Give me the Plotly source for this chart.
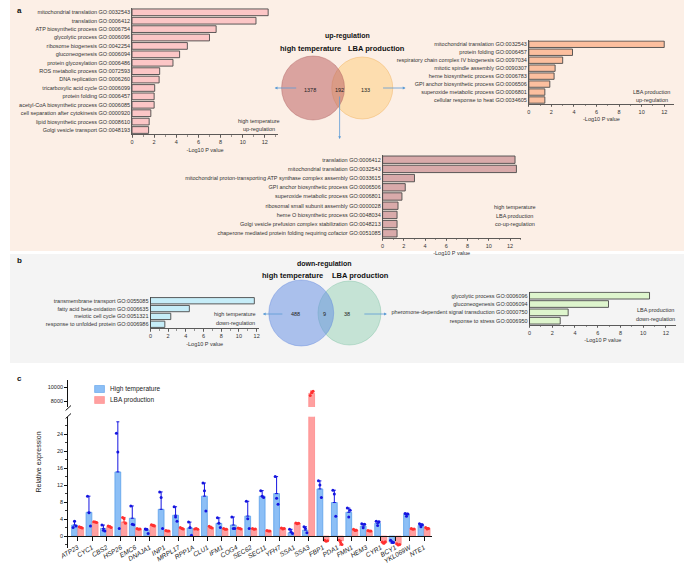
import plotly.graph_objects as go

W, H = 685, 573
FONT = "Liberation Sans, Arial, sans-serif"

def px(x):
    return x / W

def py(y):
    return 1 - y / H

# ---------------- data: panel a ----------------
a_ht_terms = ["mitochondrial translation GO:0032543", "translation GO:0006412",
              "ATP biosynthetic process GO:0006754", "glycolytic process GO:0006096",
              "ribosome biogenesis GO:0042254", "gluconeogenesis GO:0006094",
              "protein glycosylation GO:0006486", "ROS metabolic process GO:0072593",
              "DNA replication GO:0006260", "tricarboxylic acid cycle GO:0006099",
              "protein folding GO:0006457", "acetyl-CoA biosynthetic process GO:0006085",
              "cell separation after cytokinesis GO:0000920", "lipid biosynthetic process GO:0008610",
              "Golgi vesicle transport GO:0048193"]
a_ht_vals = [12.3, 11.2, 7.6, 7.0, 5.0, 4.3, 3.7, 2.5, 2.45, 2.05, 2.0, 2.0, 1.7, 1.55, 1.5]

a_lba_terms = ["mitochondrial translation GO:0032543", "protein folding GO:0006457",
               "respiratory chain complex IV biogenesis GO:0097034", "mitotic spindle assembly GO:0090307",
               "heme biosynthetic process GO:0006783", "GPI anchor biosynthetic process GO:0006506",
               "superoxide metabolic process GO:0006801", "cellular response to heat GO:0034605"]
a_lba_vals = [12.0, 3.87, 3.0, 2.33, 2.24, 1.86, 1.42, 1.42]

a_co_terms = ["translation GO:0006412", "mitochondrial translation GO:0032543",
              "mitochondrial proton-transporting ATP synthase complex assembly GO:0033615",
              "GPI anchor biosynthetic process GO:0006506", "superoxide metabolic process GO:0006801",
              "ribosomal small subunit assembly GO:0000028", "heme O biosynthetic process GO:0048034",
              "Golgi vesicle prefusion complex stabilization GO:0048213",
              "chaperone mediated protein folding requiring cofactor GO:0051085"]
a_co_vals = [12.47, 12.6, 3.0, 2.13, 1.82, 1.45, 1.36, 1.36, 1.36]

venn_up = ["1378", "192", "133"]

# ---------------- data: panel b ----------------
b_ht_terms = ["transmembrane transport GO:0055085", "fatty acid beta-oxidation GO:0006635",
              "meiotic cell cycle GO:0051321", "response to unfolded protein GO:0006986"]
b_ht_vals = [11.74, 4.4, 2.3, 1.63]

b_lba_terms = ["glycolytic process GO:0006096", "gluconeogenesis GO:0006094",
               "pheromone-dependent signal transduction GO:0000750", "response to stress GO:0006950"]
b_lba_vals = [10.56, 6.95, 3.4, 2.7]

venn_down = ["488", "9", "38"]

# ---------------- data: panel c ----------------
genes = ["ATP23", "CYC1", "CBS2", "HSP26", "EMC6", "DNAJA1", "INP1", "MRPL17", "RPP1A",
         "CLU1", "IFM1", "COG4", "SEC62", "SEC11", "YFH7", "SSA1", "SSA3", "FBP1", "PDA1",
         "FMN1", "HEM3", "CYR1", "BCY1", "YKL069W", "NTE1"]
ht_mean = [2.6, 5.6, 1.8, 15.1, 4.2, 1.4, 6.3, 4.9, 1.9, 9.4, 3.0, 2.6, 4.7, 9.4, 10.0,
           0.8, 1.4, 11.1, 7.9, 5.6, 2.35, 3.0, -1.4, 5.1, 2.5]
ht_err = [0.9, 3.8, 0.8, 11.8, 2.9, 0.3, 4.1, 2.0, 1.4, 3.1, 1.3, 1.9, 3.5, 1.3, 4.0,
          0.8, 0.8, 1.9, 2.9, 1.0, 0.55, 0.5, 0.3, 0.3, 0.4]
ht_pts = [[2.0, 3.5, 2.4], [9.4, 5.5, 2.35], [2.6, 1.4, 1.2], [24.2, 19.8, 1.8],
          [7.1, 2.8, 2.7], [1.7, 1.6, 0.6], [10.4, 9.1, 1.8], [6.9, 4.5, 3.5],
          [3.3, 2.0, 0.2], [12.5, 10.7, 5.9], [4.3, 3.0, 2.0], [4.5, 1.8, 1.8],
          [8.2, 4.1, 1.8], [10.7, 9.4, 9.1], [14.0, 8.9, 7.5], [1.6, 1.0, 0.6],
          [2.2, 1.8, 0.8], [13.0, 12.0, 9.1], [10.8, 9.9, 4.7], [6.6, 4.5, 6.1],
          [2.9, 1.96, 2.8], [3.5, 2.5, 3.4], [-1.0, -1.3, -1.5], [5.3, 4.7, 5.2],
          [2.9, 2.2, 2.7]]
lba_mean = [2.0, 3.3, 2.2, 3.3, 1.7, 2.6, 1.25, 1.8, 1.7, 2.0, 1.7, 1.8, 1.7, 1.25, 1.8,
            3.0, 9100, -1.1, -1.1, 1.4, 1.2, -1.6, -2.0, 1.7, 1.8]
lba_err = [0.2, 0.1, 0.2, 1.1, 0.1, 0.15, 0.05, 0.15, 0.1, 0.3, 0.1, 0.1, 0.1, 0.05, 0.1,
           0.1, 320, 0.1, 1.0, 0.2, 0.1, 0.2, 0.2, 0.1, 0.2]
lba_pts = [[2.2, 2.0, 1.9], [3.4, 3.3, 3.2], [2.4, 2.2, 2.0], [4.4, 4.1, 3.0],
           [1.8, 1.6, 1.7], [2.7, 2.5, 2.35], [1.3, 1.2, 1.2], [2.0, 1.8, 1.7],
           [1.7, 1.8, 1.6], [2.3, 2.0, 1.9], [1.8, 1.6, 1.6], [1.9, 1.8, 1.7],
           [1.8, 1.6, 1.7], [1.3, 1.2, 1.2], [1.9, 1.7, 1.8], [3.1, 2.9, 3.0],
           [8800, 9200, 9400], [-1.0, -1.2, -1.1], [-1.0, -1.5, -2.0], [1.6, 1.3, 1.4],
           [1.3, 1.2, 1.2], [-1.4, -1.7, -1.3], [-1.8, -2.1, -2.0], [1.8, 1.6, 1.7],
           [2.0, 1.7, 1.8]]

fig = go.Figure()
layout = dict(width=W, height=H, margin=dict(l=0, r=0, t=0, b=0),
              paper_bgcolor="white", plot_bgcolor="rgba(0,0,0,0)",
              font=dict(family=FONT, size=6, color="#222"),
              barmode="overlay", showlegend=False, hovermode=False)
shapes = []
annotations = []

# backgrounds
shapes.append(dict(type="rect", xref="paper", yref="paper", x0=0, x1=1, y0=py(251), y1=1,
                   fillcolor="#fcefe6", line=dict(width=0), layer="below"))
shapes.append(dict(type="rect", xref="paper", yref="paper", x0=0, x1=1, y0=py(363), y1=py(254),
                   fillcolor="#f4f4f4", line=dict(width=0), layer="below"))

TICKS = [0, 2, 4, 6, 8, 10, 12]

def hbar(idx, terms, vals, color, x0, x1, y0, y1, xmax):
    fig.add_trace(go.Bar(x=vals, y=terms, orientation="h", xaxis=f"x{idx}", yaxis=f"y{idx}",
                         marker=dict(color=color, line=dict(color="#4a4a4a", width=0.9)),
                         width=0.8, showlegend=False))
    layout[f"xaxis{idx}"] = dict(domain=[px(x0), px(x1)], range=[0, xmax], anchor=f"y{idx}",
                                 showline=True, linecolor="#333", linewidth=0.8,
                                 ticks="outside", ticklen=2.5, tickwidth=0.6, tickcolor="#333",
                                 tickvals=TICKS, tickfont=dict(size=5.5, color="#333"),
                                 minor=dict(ticks="outside", dtick=1, ticklen=1.5, tickwidth=0.5,
                                            tickcolor="#333"),
                                 title=dict(text="-Log10 P value", font=dict(size=5.5, color="#333"),
                                            standoff=3),
                                 showgrid=False, zeroline=False)
    layout[f"yaxis{idx}"] = dict(domain=[py(y1), py(y0)], anchor=f"x{idx}", type="category",
                                 range=[len(terms) - 0.5, -0.5], showline=True, linecolor="#333",
                                 linewidth=0.8, ticks="", tickfont=dict(size=5.5, color="#333"),
                                 showgrid=False, zeroline=False)

hbar(3, a_ht_terms, a_ht_vals, "#fcc6c6", 124, 272.5, 8.1, 134.2, 13.2)
hbar(4, a_lba_terms, a_lba_vals, "#fcbf9f", 527.3, 675, 40.3, 104, 12.88)
hbar(5, a_co_terms, a_co_vals, "#d9aaaa", 378.7, 519, 155.1, 237.9, 13.0)
hbar(6, b_ht_terms, b_ht_vals, "#c6edf8", 142.7, 253, 296.8, 328.2, 12.26)
hbar(7, b_lba_terms, b_lba_vals, "#def5cd", 528, 677, 291.5, 324.9, 12.9)

def text(x, y, s, size=5.5, bold=False, color="#333", xanchor="center", textangle=0):
    annotations.append(dict(x=px(x), y=py(y), xref="paper", yref="paper",
                            text=f"<b>{s}</b>" if bold else s, showarrow=False,
                            font=dict(size=size, color=color, family=FONT),
                            xanchor=xanchor, yanchor="middle", textangle=textangle))

def arrow(tx, ty, hx, hy):
    annotations.append(dict(x=px(hx), y=py(hy), xref="paper", yref="paper", text="",
                            showarrow=True, ax=tx - hx, ay=ty - hy, arrowhead=2, arrowsize=0.7,
                            arrowwidth=0.8, arrowcolor="#5b9bd5"))

def circle(cx, cy, r, fill, line):
    shapes.append(dict(type="circle", xref="paper", yref="paper", x0=px(cx - r), x1=px(cx + r),
                       y0=py(cy + r), y1=py(cy - r), fillcolor=fill,
                       line=dict(color=line, width=0.8), layer="below"))

# chart side labels
text(253, 121, "high temperature")
text(253, 129, "up-regulation")
text(652, 92, "LBA production")
text(652, 100, "up-regulation")
text(513, 207, "high temperature")
text(513, 215.7, "LBA production")
text(513, 224, "co-up-regulation")
text(229, 314, "high temperature")
text(229, 323, "down-regulation")
text(656, 310, "LBA production")
text(656, 318.5, "down-regulation")

# venn up-regulation
circle(358, 88, 31, "rgba(253,205,130,0.55)", "rgba(240,180,100,0.6)")
circle(308, 88, 32, "rgba(190,100,100,0.55)", "rgba(170,90,90,0.5)")
text(343, 36, "up-regulation", size=7, bold=True, color="#111")
text(305, 49, "high temperature", size=7.5, bold=True, color="#111")
text(372, 49, "LBA production", size=7.5, bold=True, color="#111")
text(305, 90, venn_up[0], size=5.5, color="#222")
text(335, 90, venn_up[1], size=5.5, color="#222")
text(361, 90, venn_up[2], size=5.5, color="#222")
arrow(292, 88, 269, 88)
arrow(378, 88, 402, 88)
arrow(335, 95, 335, 139)

# venn down-regulation
circle(345, 313, 32, "rgba(149,209,181,0.5)", "rgba(120,190,160,0.5)")
circle(296, 313, 33, "rgba(95,139,227,0.5)", "rgba(90,130,220,0.5)")
text(319, 264, "down-regulation", size=7, bold=True, color="#111")
text(287, 275, "high temperature", size=7.5, bold=True, color="#111")
text(356, 275, "LBA production", size=7.5, bold=True, color="#111")
text(290, 314, venn_down[0], size=5.5, color="#222")
text(320, 314, venn_down[1], size=5.5, color="#222")
text(343, 314, venn_down[2], size=5.5, color="#222")
arrow(278, 314, 257, 314)
arrow(359, 314, 383, 314)

# panel letters
text(10, 10, "a", size=8, bold=True, color="#111")
text(10, 260, "b", size=8, bold=True, color="#111")
text(10, 378, "c", size=8, bold=True, color="#111")

# ---------------- panel c ----------------
xs = list(range(len(genes)))
OFF = 0.215
BW = 0.4

def plusminus(means, errs):
    plus = [e if m >= 0 else 0 for m, e in zip(means, errs)]
    minus = [0 if m >= 0 else e for m, e in zip(means, errs)]
    return plus, minus

ht_p, ht_m = plusminus(ht_mean, ht_err)
lba_p, lba_m = plusminus(lba_mean, lba_err)

BLUE_FILL, BLUE_LINE, BLUE_DOT = "rgba(120,180,245,0.85)", "#5aa0ea", "#1515e0"
RED_FILL, RED_LINE, RED_DOT = "rgba(255,150,150,0.9)", "#ff8c8c", "#ff3030"

for ax_x, ax_y in (("x", "y"), ("x2", "y2")):
    fig.add_trace(go.Bar(x=[i - OFF for i in xs], y=ht_mean, width=BW, xaxis=ax_x, yaxis=ax_y,
                         name="High temperature",
                         marker=dict(color=BLUE_FILL, line=dict(color=BLUE_LINE, width=0.8)),
                         error_y=dict(type="data", array=ht_p, arrayminus=ht_m, symmetric=False,
                                      color=BLUE_DOT, thickness=1, width=1.5)))
    fig.add_trace(go.Bar(x=[i + OFF for i in xs], y=lba_mean, width=BW, xaxis=ax_x, yaxis=ax_y,
                         name="LBA production",
                         marker=dict(color=RED_FILL, line=dict(color=RED_LINE, width=0.8)),
                         error_y=dict(type="data", array=lba_p, arrayminus=lba_m, symmetric=False,
                                      color=RED_DOT, thickness=1, width=1.5)))
    jit = [-0.1, 0.0, 0.1]
    px_b, py_b, px_r, py_r = [], [], [], []
    for i in xs:
        for j, v in enumerate(ht_pts[i]):
            px_b.append(i - OFF + jit[j]); py_b.append(v)
        for j, v in enumerate(lba_pts[i]):
            px_r.append(i + OFF + jit[j]); py_r.append(v)
    fig.add_trace(go.Scatter(x=px_b, y=py_b, mode="markers", xaxis=ax_x, yaxis=ax_y,
                             marker=dict(color=BLUE_DOT, size=3)))
    fig.add_trace(go.Scatter(x=px_r, y=py_r, mode="markers", xaxis=ax_x, yaxis=ax_y,
                             marker=dict(color=RED_DOT, size=3)))

XR = [-0.644, 24.58]
XD = [px(59.3), px(429.3)]
layout["xaxis"] = dict(domain=XD, range=XR, anchor="free", position=py(536),
                       showline=True, linecolor="#111", linewidth=1.4,
                       ticks="outside", ticklen=4, tickwidth=1, tickcolor="#111",
                       tickvals=xs, ticktext=[f"<i>{g}</i>" for g in genes], tickangle=-30,
                       tickfont=dict(size=6.5, color="#222"), showgrid=False, zeroline=False)
layout["xaxis2"] = dict(domain=XD, range=XR, anchor="y2", visible=False, showgrid=False,
                        zeroline=False)
layout["yaxis"] = dict(domain=[py(548), py(416.7)], range=[-2.8, 28.1], anchor="x",
                       showline=True, linecolor="#111", linewidth=1.2,
                       ticks="outside", ticklen=3, tickwidth=1, tickcolor="#111",
                       tickvals=[0, 4, 8, 12, 16, 20, 24], tickfont=dict(size=5.5, color="#222"),
                       minor=dict(ticks="outside", tickvals=[-2, 2, 6, 10, 14, 18, 22, 26],
                                  ticklen=2, tickwidth=0.8, tickcolor="#111"),
                       showgrid=False, zeroline=False)
layout["yaxis2"] = dict(domain=[py(407), py(380)], range=[7143, 11000], anchor="x2",
                        showline=True, linecolor="#111", linewidth=1.2,
                        ticks="outside", ticklen=3, tickwidth=1, tickcolor="#111",
                        tickvals=[8000, 10000], ticktext=["8000", "10000"],
                        tickfont=dict(size=5.5, color="#222"),
                        showgrid=False, zeroline=False)

text(29, 462, "Relative expression", size=7, color="#222", textangle=-90)

# axis break marks
for yb in (408, 416):
    shapes.append(dict(type="line", xref="paper", yref="paper", x0=px(56.5), x1=px(62),
                       y0=py(yb + 2.5), y1=py(yb - 2.5), line=dict(color="#111", width=1)))

# legend (manual)
for k, (lab, col, edge) in enumerate((("High temperature", BLUE_FILL, BLUE_LINE),
                                      ("LBA production", RED_FILL, RED_LINE))):
    yc = 389 + 11 * k
    shapes.append(dict(type="rect", xref="paper", yref="paper", x0=px(86), x1=px(96),
                       y0=py(yc + 3.5), y1=py(yc - 3.5), fillcolor=col,
                       line=dict(color=edge, width=0.6)))
    text(100, yc, lab, size=6.5, color="#222", xanchor="left")

layout["shapes"] = shapes
layout["annotations"] = annotations
fig.update_layout(**layout)
fig.write_html("out.html", config={"displayModeBar": False, "staticPlot": True},
               post_script="document.body.style.margin='0';document.body.style.padding='0';"
                           "document.body.style.overflow='hidden';")
